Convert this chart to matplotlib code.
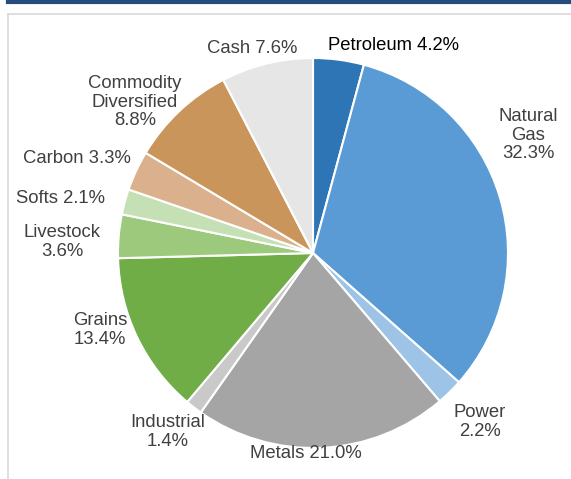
import numpy as np
import matplotlib.pyplot as plt
from matplotlib.lines import Line2D

labels = ["Petroleum", "Natural\nGas", "Power", "Metals", "Industrial", "Grains",
          "Livestock", "Softs", "Carbon", "Commodity\nDiversified", "Cash"]
shares = [4.2, 32.3, 2.2, 21.0, 1.4, 13.4, 3.6, 2.1, 3.3, 8.8, 7.6]
colors = ["#2E75B6", "#5B9BD5", "#9DC3E6", "#A5A5A5", "#C9C9C9", "#70AD47",
          "#9CC97C", "#C5E0B4", "#DBB08C", "#C9955B", "#E7E6E6"]
# label text joins name and value on one line or on a new line
inline = [True, False, False, True, False, False, False, True, True, False, True]
# label centres in pixels (x from left, y from top)
label_pos = [(393, 45), (528, 135), (480, 422), (306, 453), (168, 432), (100, 330),
             (62, 242), (60, 198), (77, 158), (135, 102), (252, 48)]

W, H = 571, 479
fig = plt.figure(figsize=(W / 100, H / 100), dpi=100)
ax = fig.add_axes([0, 0, 1, 1])

ax.pie(shares, colors=colors, startangle=90, counterclock=False,
       center=(313, H - 253), radius=195,
       wedgeprops=dict(edgecolor="white", linewidth=1.5))

ax.set_xlim(0, W)
ax.set_ylim(0, H)
ax.set_aspect("equal")
ax.axis("off")

# frame
ax.add_line(Line2D([8, W], [H - 2, H - 2], color="#264B7E", lw=3))
ax.add_line(Line2D([8, W], [H - 14, H - 14], color="#D9D9D9", lw=1.2))
ax.add_line(Line2D([8, 8], [H - 14, 0], color="#D9D9D9", lw=1.2))

for i, (name, v, one, (px, py)) in enumerate(zip(labels, shares, inline, label_pos)):
    txt = f"{name} {v:.1f}%" if one else f"{name}\n{v:.1f}%"
    ax.text(px, H - py, txt, ha="center", va="center", fontsize=13.3,
            family="Liberation Sans", color="black" if i == 0 else "#404040",
            linespacing=1.1)

fig.savefig("out.png", dpi=100)
